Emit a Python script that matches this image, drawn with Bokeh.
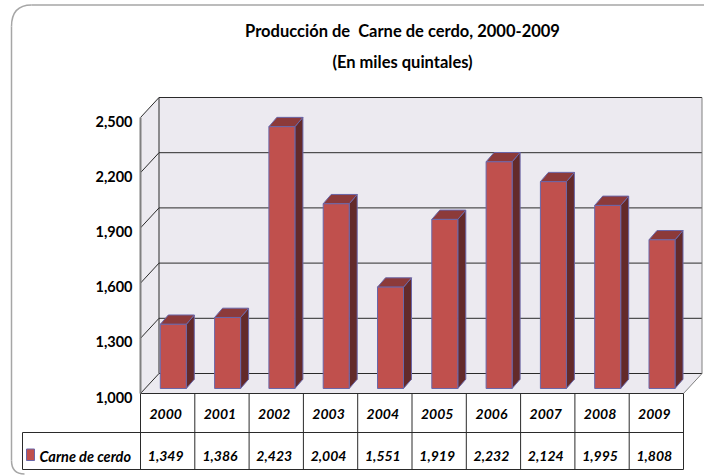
from bokeh.plotting import figure
from bokeh.models import Range1d, FixedTicker, CustomJSTickFormatter
from bokeh.core.properties import value
from bokeh.embed import file_html
from bokeh.resources import INLINE

years = ["2000", "2001", "2002", "2003", "2004", "2005", "2006", "2007", "2008", "2009"]
pork = [1349, 1386, 2423, 2004, 1551, 1919, 2232, 2124, 1995, 1808]
y_ticks = [1000, 1300, 1600, 1900, 2200, 2500]
title_lines = ["Producción de\u00a0 Carne de cerdo, 2000-2009", "(En miles quintales)"]
series_name = "Carne de cerdo"

W, H = 704, 475
AX_X, AX_Y = 140.0, 393.0     # screen position of the front axis origin
SLOT = 54.3                   # px per category
PX_PER_UNIT = 0.184           # px per quintal unit

def sx(px):
    return (px - AX_X) / SLOT

def sy(px):
    return 1000 + (AX_Y - px) / PX_PER_UNIT

p = figure(width=W, height=H, output_backend="svg", toolbar_location=None,
           x_range=Range1d(sx(0), sx(W)), y_range=Range1d(sy(H), sy(0)),
           min_border=0, outline_line_color=None, background_fill_color="white",
           border_fill_color="white")
p.grid.visible = False
p.xaxis.visible = False

WALL = "#ECEAF0"
LINE = "#2A2A2A"
GREY = "#808080"
FACE, TOP, SIDE, EDGE = "#C0504D", "#8C3A3A", "#632A2A", "#6A66A8"
FONT = value("Lato")

# rounded frame
BL, BT, BB = 11, 4.5, 473.5
p.line([sx(W), sx(31)], [sy(BT), sy(BT)], line_color="#A6A6A6", line_width=1.5)
p.quadratic(x0=[sx(31)], y0=[sy(BT)], x1=[sx(BL)], y1=[sy(26)], cx=[sx(BL)], cy=[sy(BT)],
            line_color="#A6A6A6", line_width=1.5)
p.line([sx(BL), sx(BL)], [sy(26), sy(460)], line_color="#A6A6A6", line_width=1.5)
p.quadratic(x0=[sx(BL)], y0=[sy(460)], x1=[sx(24)], y1=[sy(BB)], cx=[sx(BL)], cy=[sy(BB)],
            line_color="#A6A6A6", line_width=1.5)

# 3-D walls
DX, DY = 18.5 / SLOT, 20 / PX_PER_UNIT
n = len(years)
y0, y1 = y_ticks[0], y_ticks[-1]
p.patch([0, DX, DX, 0], [y0, y0 + DY, y1 + DY, y1], fill_color=WALL, line_color=None)
p.patch([DX, n + DX, n + DX, DX], [y0 + DY, y0 + DY, y1 + DY, y1 + DY], fill_color=WALL, line_color=None)
p.patch([0, DX, n + DX, n], [y0, y0 + DY, y0 + DY, y0], fill_color=WALL, line_color=None)
for t in y_ticks:
    p.line([0, DX, n + DX], [t, t + DY, t + DY], line_color=LINE, line_width=1)
p.line([DX, DX], [y0 + DY, y1 + DY], line_color=LINE, line_width=1)
p.line([n + DX, n + DX], [y0 + DY, y1 + DY], line_color=GREY, line_width=1)
p.line([n, n + DX], [y0, y0 + DY], line_color=GREY, line_width=1)

# 3-D bars
BAR_W = 26 / SLOT
INSET = 19.8 / SLOT
BX, BY = 8 / SLOT, 9.3 / PX_PER_UNIT
LIFT = 5 / PX_PER_UNIT
for i, v in enumerate(pork):
    l, r = i + INSET, i + INSET + BAR_W
    b, t = y0 + LIFT, v + LIFT
    p.patch([r, r + BX, r + BX, r], [b, b + BY, t + BY, t], fill_color=SIDE, line_color=EDGE, line_width=1)
    p.patch([l, l + BX, r + BX, r], [t, t + BY, t + BY, t], fill_color=TOP, line_color=EDGE, line_width=1)
    p.patch([l, r, r, l], [b, b, t, t], fill_color=FACE, line_color=EDGE, line_width=1)

# real value axis at the front-left edge; its labels are set a little below the ticks
ax = p.yaxis[0]
ax.fixed_location = 0
ax.bounds = (y0, y1)
ax.ticker = FixedTicker(ticks=y_ticks)
ax.formatter = CustomJSTickFormatter(code="return ''")
ax.axis_line_color = GREY
ax.axis_line_width = 2
ax.major_tick_line_color = None
ax.minor_tick_line_color = None
p.text([0] * len(y_ticks), y_ticks, text=[f"{t:,}" for t in y_ticks], x_offset=-8, y_offset=3.5,
       text_align="right", text_baseline="middle", text_font=FONT, text_font_style="bold",
       text_font_size="14.5px", text_color="black")

# data table
TOP_Y, MID_Y, BOT_Y = 393, 432, 469
TL = 22
p.segment(x0=[0, sx(TL), sx(TL)], y0=[sy(TOP_Y), sy(MID_Y), sy(BOT_Y)],
          x1=[n, n, n], y1=[sy(TOP_Y), sy(MID_Y), sy(BOT_Y)], line_color=LINE, line_width=1)
p.segment(x0=list(range(n + 1)), y0=[sy(TOP_Y)] * (n + 1),
          x1=list(range(n + 1)), y1=[sy(BOT_Y)] * (n + 1), line_color=LINE, line_width=1)
p.segment(x0=[sx(TL)], y0=[sy(MID_Y)], x1=[sx(TL)], y1=[sy(BOT_Y)], line_color=LINE, line_width=1)

cx = [i + 0.5 for i in range(n)]
p.text(cx, [sy(413)] * n, text=years, x_offset=-2, text_align="center", text_baseline="middle",
       text_font=FONT, text_font_style="bold italic", text_font_size="14px", text_color="black")
p.text(cx, [sy(455)] * n, text=[f"{v:,}" for v in pork], x_offset=-2, text_align="center", text_baseline="middle",
       text_font=FONT, text_font_style="bold italic", text_font_size="14px", text_color="black")
p.patch([sx(26), sx(34), sx(34), sx(26)], [sy(448.5), sy(448.5), sy(460), sy(460)],
        fill_color=FACE, line_color=EDGE, line_width=1)
p.text([sx(39)], [sy(456)], text=[series_name], text_align="left", text_baseline="middle",
       text_font=FONT, text_font_style="bold italic", text_font_size="14.5px", text_color="black")

# title
for line, py in zip(title_lines, (30, 61)):
    p.text([sx(402)], [sy(py)], text=[line], text_align="center", text_baseline="middle",
           text_font=FONT, text_font_style="bold", text_font_size="16.5px", text_color="black")

open("out.html", "w").write(file_html(p, INLINE))
